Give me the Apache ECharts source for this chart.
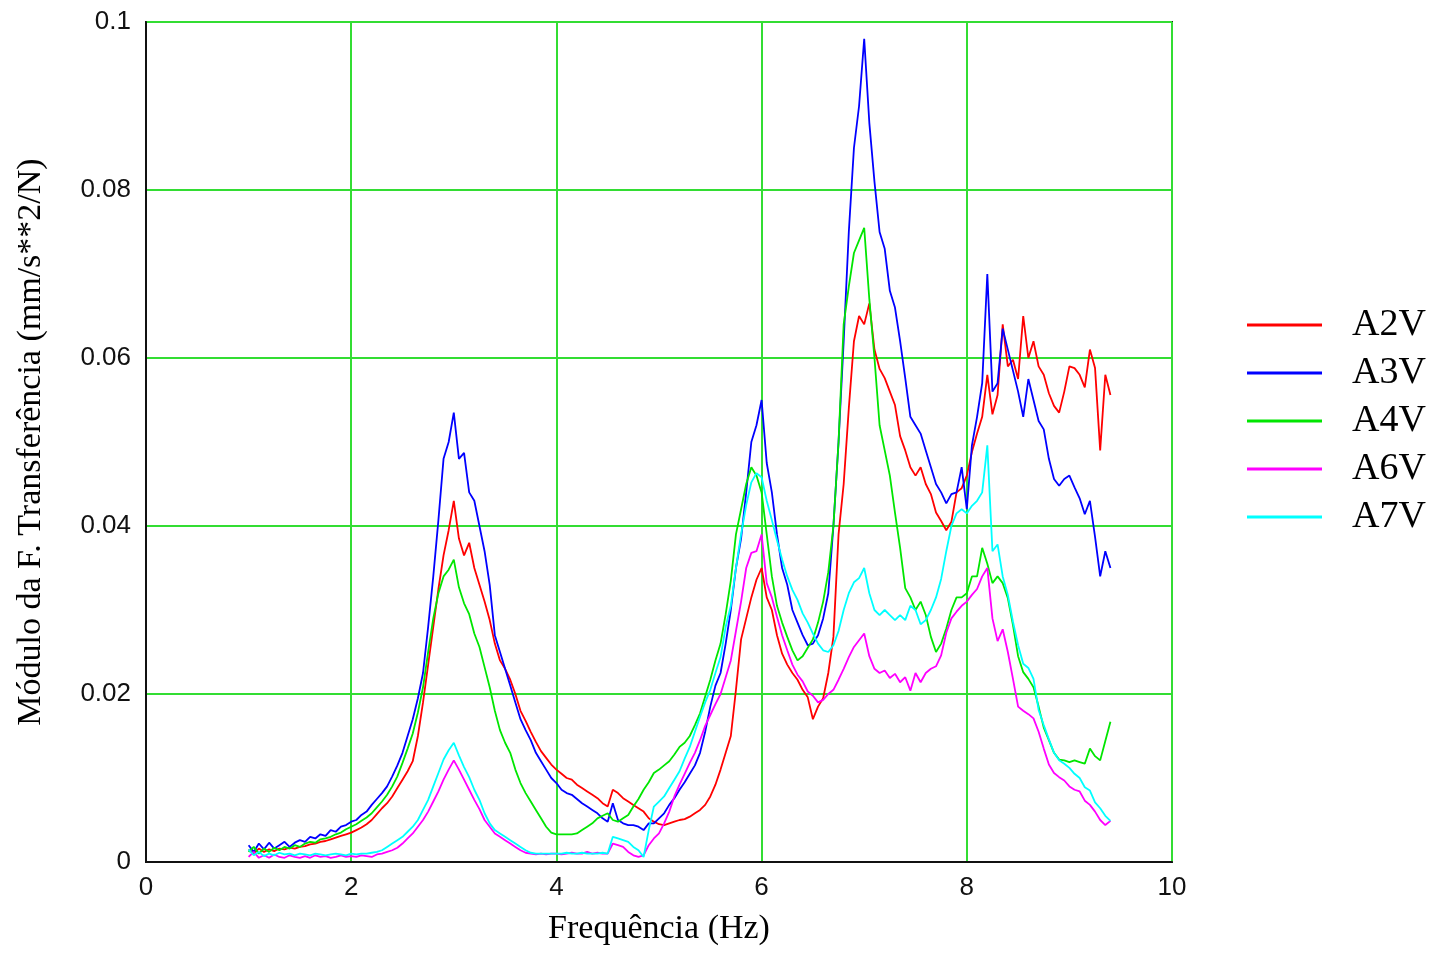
<!DOCTYPE html>
<html>
<head>
<meta charset="utf-8">
<script src="https://cdn.jsdelivr.net/npm/echarts@6/dist/echarts.min.js"></script>
<style>html,body{margin:0;padding:0;background:#fff}#chart{width:1433px;height:953px}</style>
</head>
<body>
<div id="chart"></div>
<script>
// Frequency samples (Hz)
const freq = [
1.00,1.05,1.10,1.15,1.20,1.25,1.30,1.35,1.40,1.45,1.50,1.55,1.60,1.65,1.70,1.75,1.80,1.85,1.90,1.95,
2.00,2.05,2.10,2.15,2.20,2.25,2.30,2.35,2.40,2.45,2.50,2.55,2.60,2.65,2.70,2.75,2.80,2.85,2.90,2.95,
3.00,3.05,3.10,3.15,3.20,3.25,3.30,3.35,3.40,3.45,3.50,3.55,3.60,3.65,3.70,3.75,3.80,3.85,3.90,3.95,
4.00,4.05,4.10,4.15,4.20,4.25,4.30,4.35,4.40,4.45,4.50,4.55,4.60,4.65,4.70,4.75,4.80,4.85,4.90,4.95,
5.00,5.05,5.10,5.15,5.20,5.25,5.30,5.35,5.40,5.45,5.50,5.55,5.60,5.65,5.70,5.75,5.80,5.85,5.90,5.95,
6.00,6.05,6.10,6.15,6.20,6.25,6.30,6.35,6.40,6.45,6.50,6.55,6.60,6.65,6.70,6.75,6.80,6.85,6.90,6.95,
7.00,7.05,7.10,7.15,7.20,7.25,7.30,7.35,7.40,7.45,7.50,7.55,7.60,7.65,7.70,7.75,7.80,7.85,7.90,7.95,
8.00,8.05,8.10,8.15,8.20,8.25,8.30,8.35,8.40,8.45,8.50,8.55,8.60,8.65,8.70,8.75,8.80,8.85,8.90,8.95,
9.00,9.05,9.10,9.15,9.20,9.25,9.30,9.35,9.40
];

// Transfer-function modulus, in units of 0.001 mm/s**2/N
const A2V = [
1.5,1.0,1.6,1.2,1.5,1.3,1.6,1.5,1.7,1.6,1.8,1.9,2.1,2.2,2.4,2.5,2.7,2.9,3.1,3.3,
3.5,3.8,4.1,4.5,5.0,5.7,6.4,7.0,7.8,8.8,9.8,10.8,12.0,15.0,19.0,23.5,28.0,32.5,36.5,39.5,
43.0,38.5,36.5,38.0,35.0,33.0,31.0,28.8,26.0,24.0,23.0,21.7,20.0,18.0,16.8,15.5,14.3,13.2,12.4,11.6,
11.0,10.5,10.0,9.8,9.2,8.8,8.4,8.0,7.6,7.0,6.6,8.6,8.2,7.6,7.2,6.8,6.4,6.0,5.2,4.8,
4.5,4.4,4.6,4.8,5.0,5.1,5.4,5.8,6.2,6.8,7.8,9.2,11.0,13.0,15.0,20.5,26.5,29.0,31.5,33.6,
35.0,31.5,30.0,27.0,24.8,23.5,22.5,21.7,20.5,19.6,17.0,18.5,19.5,22.5,26.8,39.0,45.0,54.0,62.0,65.0,
64.0,66.5,61.0,58.7,57.6,56.0,54.4,50.7,49.0,47.0,46.0,47.0,45.0,43.8,41.6,40.6,39.5,40.5,44.0,44.5,
46.0,48.8,51.0,53.0,58.0,53.3,55.6,64.0,59.0,59.8,57.5,65.0,60.0,62.0,59.0,58.0,55.8,54.3,53.5,56.0,
59.0,58.8,58.0,56.5,61.0,58.8,49.0,58.0,55.6
];
const A3V = [
2.0,1.2,2.2,1.5,2.3,1.6,2.0,2.4,1.8,2.3,2.6,2.4,3.0,2.8,3.3,3.1,3.8,3.6,4.2,4.4,
4.8,5.0,5.6,6.0,6.8,7.5,8.2,9.0,10.2,11.5,13.0,15.0,17.0,19.5,22.5,28.0,34.0,40.7,48.0,50.0,
53.5,48.0,48.7,44.0,43.0,40.0,37.0,33.0,27.0,25.0,23.0,21.0,19.0,17.0,15.7,14.5,13.0,12.0,11.0,10.0,
9.4,8.6,8.2,8.0,7.5,7.0,6.6,6.2,5.8,5.2,4.8,7.0,5.0,4.6,4.4,4.4,4.2,3.8,4.6,4.6,
5.2,5.8,6.8,7.6,8.6,9.5,10.5,11.5,13.0,15.5,18.5,21.0,22.5,26.0,30.0,35.0,38.5,44.0,50.0,52.0,
55.0,47.5,44.0,39.0,35.0,33.0,30.0,28.5,27.0,25.8,26.0,27.0,29.0,32.0,40.0,50.0,62.0,75.0,85.0,90.0,
98.0,88.0,81.0,75.0,73.0,68.0,66.0,62.0,57.6,53.0,52.0,51.0,49.0,47.0,45.0,44.0,42.7,43.8,44.0,47.0,
42.0,49.6,53.0,57.0,70.0,56.0,57.0,63.5,61.0,58.5,56.0,53.0,57.5,55.0,52.5,51.5,48.0,45.6,44.8,45.6,
46.0,44.6,43.3,41.4,43.0,38.7,34.0,37.0,35.0
];
const A4V = [
1.2,1.8,1.0,1.6,1.2,1.7,1.4,1.8,1.6,2.0,1.8,2.2,2.4,2.3,2.7,2.8,3.0,3.3,3.5,3.9,
4.2,4.5,4.9,5.3,5.8,6.5,7.2,8.0,9.0,10.2,11.8,13.5,15.3,17.8,20.8,25.0,29.0,32.0,34.0,34.8,
36.0,32.7,30.8,29.5,27.2,25.6,23.2,20.8,18.0,15.7,14.2,13.0,11.0,9.4,8.2,7.2,6.2,5.2,4.2,3.5,
3.3,3.3,3.3,3.3,3.4,3.8,4.2,4.6,5.2,5.5,5.8,5.0,4.8,5.2,5.6,6.6,7.5,8.6,9.5,10.6,
11.0,11.5,12.0,12.8,13.7,14.2,15.0,16.3,17.7,19.7,21.7,24.0,26.0,29.5,33.5,39.0,42.0,45.0,47.0,46.0,
44.0,39.0,34.0,30.5,28.5,26.8,25.2,24.0,24.5,25.5,26.5,28.5,31.0,34.5,40.0,50.0,64.0,68.5,72.5,74.0,
75.5,67.0,60.0,52.0,49.0,46.0,41.6,37.4,32.6,31.5,30.0,31.0,29.4,26.8,25.0,26.0,27.8,30.0,31.5,31.5,
32.0,34.0,34.0,37.4,35.5,33.2,34.0,33.2,31.4,28.2,24.5,22.6,21.8,20.8,18.5,16.0,14.5,13.0,12.2,12.1,
11.9,12.1,11.9,11.7,13.5,12.6,12.1,14.4,16.7
];
const A6V = [
0.6,1.2,0.5,0.8,0.5,0.9,0.6,0.5,0.8,0.6,0.5,0.7,0.5,0.8,0.6,0.7,0.5,0.6,0.8,0.6,
0.7,0.6,0.8,0.7,0.6,0.9,1.0,1.2,1.4,1.7,2.2,2.8,3.4,4.2,5.0,6.0,7.2,8.4,9.8,11.0,
12.1,11.0,9.8,8.6,7.4,6.3,5.0,4.2,3.4,3.0,2.6,2.2,1.8,1.4,1.1,1.0,0.9,1.0,0.9,1.0,
1.0,0.9,1.0,1.1,1.0,1.0,1.2,1.0,1.1,1.0,1.0,2.2,2.0,1.8,1.2,0.8,0.6,0.8,2.0,2.8,
3.4,4.6,6.0,7.8,9.2,10.5,11.8,13.0,14.5,16.2,17.5,18.8,20.0,22.0,24.0,27.5,31.0,35.0,36.8,37.0,
39.0,33.2,31.5,29.2,27.0,25.2,23.5,22.3,21.5,20.3,19.8,19.0,19.3,20.0,20.5,21.7,23.0,24.4,25.6,26.4,
27.2,24.5,23.0,22.5,22.8,21.9,22.4,21.4,22.0,20.4,22.5,21.4,22.5,23.0,23.3,24.6,27.3,29.0,29.8,30.5,
31.0,31.8,32.5,34.0,35.0,29.0,26.3,27.7,25.0,21.8,18.5,18.0,17.6,17.1,15.5,13.5,11.6,10.6,10.1,9.7,
9.0,8.6,8.4,7.3,6.8,6.0,5.0,4.4,4.9
];
const A7V = [
1.5,0.8,1.2,0.7,1.0,0.8,1.1,0.9,1.0,0.8,1.0,0.9,0.8,1.0,0.9,0.8,0.9,1.0,0.9,0.8,
1.0,0.9,1.0,1.0,1.1,1.2,1.4,1.8,2.2,2.6,3.0,3.6,4.2,5.0,6.2,7.4,9.0,10.6,12.2,13.3,
14.2,12.7,11.3,10.1,8.6,7.4,5.8,4.6,3.8,3.4,3.0,2.6,2.2,1.8,1.4,1.1,1.0,1.0,1.0,1.0,
1.0,1.0,1.1,1.0,1.0,1.1,1.0,1.0,1.0,1.1,1.0,3.0,2.8,2.6,2.4,1.8,1.4,0.6,3.8,6.6,
7.2,7.8,8.8,9.8,10.8,12.3,13.7,15.5,17.3,19.0,20.5,22.5,24.4,28.0,30.5,35.0,39.0,42.5,45.2,46.3,
45.8,43.0,40.7,38.3,36.0,34.0,32.4,31.2,29.6,28.5,27.2,26.0,25.2,25.0,25.8,27.5,30.0,32.0,33.3,33.8,
35.0,32.0,30.0,29.4,30.0,29.4,28.8,29.4,28.8,30.5,30.0,28.3,28.8,30.0,31.5,33.7,37.0,40.0,41.5,42.0,
41.5,42.4,43.0,44.0,49.6,37.0,37.8,34.0,31.8,28.6,25.8,23.6,23.1,21.8,18.1,16.3,14.6,13.0,12.1,11.7,
11.2,10.5,10.0,8.9,8.5,7.1,6.4,5.5,4.9
];

const xTicks = [0, 2, 4, 6, 8, 10];
const yTicks = [0, 0.02, 0.04, 0.06, 0.08, 0.1];
const UNIT = 0.001; // arrays above are in thousandths

const seriesDefs = [
  {name: 'A2V', values: A2V, color: '#ff0000'},
  {name: 'A3V', values: A3V, color: '#0000ff'},
  {name: 'A4V', values: A4V, color: '#00e600'},
  {name: 'A6V', values: A6V, color: '#ff00ff'},
  {name: 'A7V', values: A7V, color: '#00ffff'}
];

const chart = echarts.init(document.getElementById('chart'), null, {renderer: 'canvas'});
const gridGreen = '#33dd33';
chart.setOption({
  animation: false,
  backgroundColor: '#ffffff',
  grid: {left: 146, top: 22, width: 1026, height: 840, show: true, borderColor: '#222', borderWidth: 2, backgroundColor: 'transparent'},
  legend: {
    orient: 'vertical', left: 1242, top: 301,
    icon: 'rect', itemWidth: 75, itemHeight: 3, itemGap: 10,
    textStyle: {fontFamily: 'Liberation Serif', fontSize: 38, color: '#000', lineHeight: 38, padding: [0, 0, 0, 25]},
    data: seriesDefs.map(s => s.name)
  },
  xAxis: {
    type: 'value', min: xTicks[0], max: xTicks[xTicks.length - 1], interval: 2,
    name: 'Frequência (Hz)', nameLocation: 'middle', nameGap: 50,
    nameTextStyle: {fontFamily: 'Liberation Serif', fontSize: 34, color: '#000'},
    axisLine: {show: true, lineStyle: {color: '#111', width: 2}},
    axisTick: {show: false},
    axisLabel: {fontFamily: 'Liberation Sans', fontSize: 26, color: '#111', margin: 13},
    splitLine: {show: true, lineStyle: {color: gridGreen, width: 2}}
  },
  yAxis: {
    type: 'value', min: yTicks[0], max: yTicks[yTicks.length - 1], interval: 0.02,
    name: 'Módulo da F. Transferência (mm/s**2/N)', nameLocation: 'middle', nameGap: 98,
    nameTextStyle: {fontFamily: 'Liberation Serif', fontSize: 34, color: '#000'},
    axisLine: {show: true, lineStyle: {color: '#111', width: 2}},
    axisTick: {show: false},
    axisLabel: {fontFamily: 'Liberation Sans', fontSize: 26, color: '#111', margin: 15,
      formatter: v => String(+v.toFixed(2))},
    splitLine: {show: true, lineStyle: {color: gridGreen, width: 2}}
  },
  series: seriesDefs.map(s => ({
    name: s.name, type: 'line', showSymbol: false, symbol: 'none',
    lineStyle: {color: s.color, width: 1.8}, itemStyle: {color: s.color},
    data: freq.map((f, i) => [f, s.values[i] * UNIT])
  }))
});
</script>
</body>
</html>
